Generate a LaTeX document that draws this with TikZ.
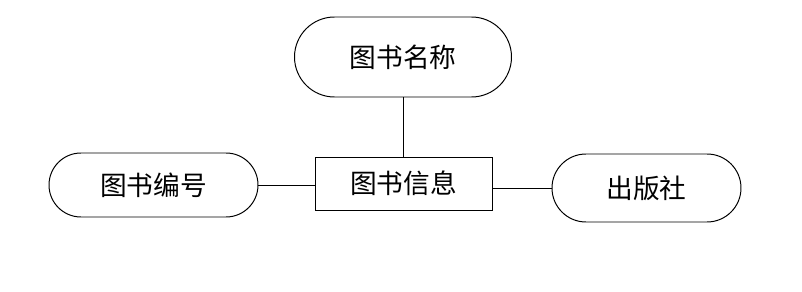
\documentclass[tikz,border=0pt]{standalone}
\usepackage{fontspec}
\newfontfamily\cjk{Noto Sans CJK SC}
\usepackage{tikz}
\usetikzlibrary{positioning}

\begin{document}
\begin{tikzpicture}[
      line width=0.7pt,
      entity/.style={rectangle, draw, inner sep=0pt, font=\cjk\fontsize{19}{22}\selectfont},
      attrib/.style={rectangle, draw, inner sep=0pt, font=\cjk\fontsize{19}{22}\selectfont}
      ]
      \useasboundingbox (0,0) rectangle (20.05,7.3);

      % Nodes
      \node[entity, minimum width=4.425cm, minimum height=1.325cm] (info) at (10.0875,2.7125) {图书信息};
      \node[attrib, minimum width=5.425cm, minimum height=2cm, rounded corners=1cm] (title) at (10.075,5.875) {图书名称};
      \node[attrib, minimum width=5.225cm, minimum height=1.6cm, rounded corners=0.8cm] (bookno) at (3.8375,2.675) {图书编号};
      \node[attrib, minimum width=4.725cm, minimum height=1.7cm, rounded corners=0.85cm] (publisher) at (16.1625,2.6) {出版社};

      % Lines
      \draw (title.south) -- (title.south |- info.north);
      \draw (bookno.east) -- (bookno.east -| info.west);
      \draw (info.east |- publisher.west) -- (publisher.west);
    \end{tikzpicture}
\end{document}
